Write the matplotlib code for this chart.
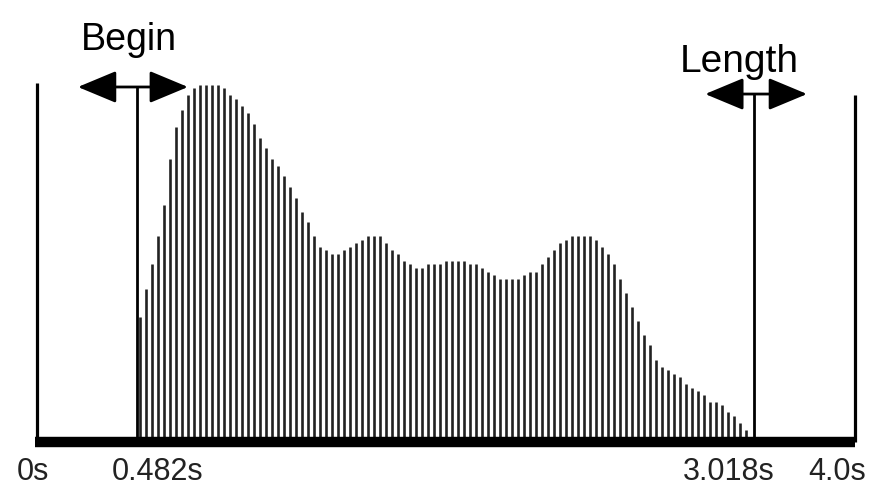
import numpy as np
import matplotlib
matplotlib.use("Agg")
import matplotlib.pyplot as plt
from matplotlib.patches import FancyArrowPatch

plt.rcParams['font.family'] = ['Liberation Sans', 'DejaVu Sans']

# time axis (display seconds) and marker positions
clip_start, clip_end = 0.0, 4.0
begin_pos = 0.489
length_pos = 3.506
wave_first, wave_last = 0.504, 3.467

# envelope height of each vertical stroke (percent of peak)
stroke_heights = [
    34, 42, 49, 57, 66, 79, 88, 93, 97, 99, 100, 100, 100, 100, 99, 97, 96, 94,
    92, 89, 85, 82, 79, 77, 74, 71, 68, 64, 61, 57, 54, 53, 52, 52, 53, 54,
    55, 56, 57, 57, 57, 55, 53, 52, 50, 49, 48, 48, 49, 49, 49, 50, 50, 50,
    50, 49, 49, 48, 47, 46, 45, 45, 45, 45, 46, 47, 47, 49, 51, 53, 55, 56,
    57, 57, 57, 57, 56, 54, 52, 49, 45, 41, 37, 33, 29, 26, 22, 20, 19, 18,
    17, 15, 14, 13, 12, 10, 10, 9, 7, 6, 4, 2,
]

tick_labels = ["0s", "0.482s", "3.018s", "4.0s"]
tick_pos = [-0.02, 0.587, 3.380, 3.912]

fig = plt.figure(figsize=(8.69, 4.92), dpi=100)
ax = fig.add_axes([0, 0, 1, 1])
ax.set_xlim(-0.181, 4.068)
ax.set_ylim(-15.6, 124.1)
ax.axis('off')

# waveform strokes
xs = np.linspace(wave_first, wave_last, len(stroke_heights))
ax.vlines(xs, -1.5, stroke_heights, color='#222222', lw=1.9)

# baseline and frame bars
ax.plot([clip_start - 0.01, clip_end], [-1.5, -1.5], color='black', lw=7.5,
        solid_capstyle='butt')
ax.vlines([clip_start], -1.5, 100.6, color='black', lw=2.3)
ax.vlines([clip_end], -1.5, 97.2, color='black', lw=2.3)

# begin / length markers
ax.vlines([begin_pos], -1.5, 99.4, color='black', lw=2.0)
ax.vlines([length_pos], -1.5, 97.4, color='black', lw=2.0)

arrow_style = "<|-|>,head_length=24,head_width=10"
for (x0, x1, y) in [(0.200, 0.738, 99.4), (3.267, 3.765, 97.4)]:
    ax.add_patch(FancyArrowPatch((x0, y), (x1, y), arrowstyle=arrow_style,
                                 mutation_scale=1, color='black', lw=2,
                                 shrinkA=0, shrinkB=0))

ax.text(0.450, 109.9, "Begin", fontsize=27, ha='center', va='baseline')
ax.text(3.433, 103.7, "Length", fontsize=28, ha='center', va='baseline')

for lbl, x in zip(tick_labels, tick_pos):
    ax.text(x, -12.2, lbl, fontsize=22, ha='center', va='baseline', color='#222222')

fig.savefig("out.png", dpi=100)
